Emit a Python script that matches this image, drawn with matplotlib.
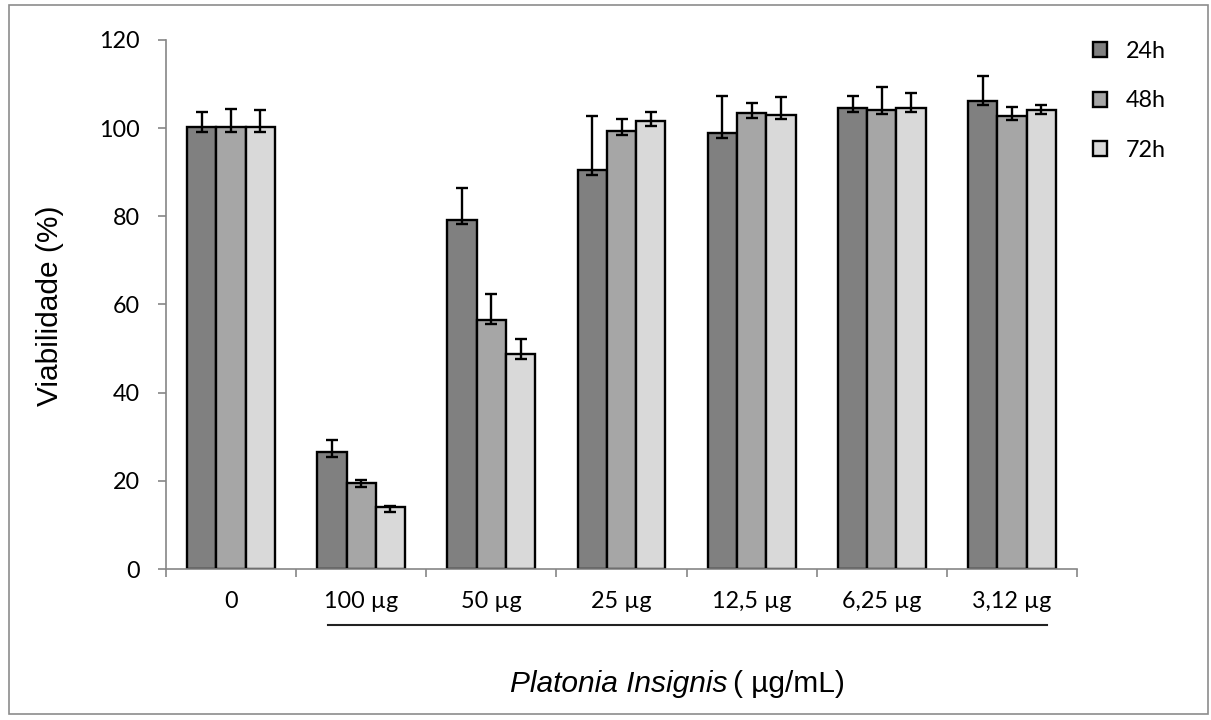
import matplotlib
matplotlib.use("Agg")
import matplotlib.pyplot as plt
import numpy as np
from matplotlib.lines import Line2D
from matplotlib.patches import Rectangle

categories = ["0", "100 µg", "50 µg", "25 µg", "12,5 µg", "6,25 µg", "3,12 µg"]
series_names = ["24h", "48h", "72h"]
v24 = [100.2, 26.6, 79.2, 90.4, 98.8, 104.6, 106.2]
v48 = [100.2, 19.6, 56.5, 99.4, 103.4, 104.2, 102.8]
v72 = [100.2, 14.0, 48.7, 101.7, 103.0, 104.6, 104.1]
up24 = [3.4, 2.7, 7.2, 12.4, 8.5, 2.6, 5.7]
up48 = [4.2, 0.5, 5.9, 2.6, 2.3, 5.2, 1.9]
up72 = [3.9, 0.4, 3.5, 2.0, 4.0, 3.3, 1.2]
dn24 = [1.0, 1.1, 0.9, 1.0, 1.0, 0.9, 1.0]
dn48 = [1.0, 0.9, 0.9, 1.0, 1.0, 0.9, 0.9]
dn72 = [1.0, 1.1, 1.1, 1.2, 1.0, 0.9, 0.9]
yticks = [0, 20, 40, 60, 80, 100, 120]

colors = ["#808080", "#a6a6a6", "#d9d9d9"]
values = [v24, v48, v72]
ups = [up24, up48, up72]
dns = [dn24, dn48, dn72]

W, H = 1211, 720
fig = plt.figure(figsize=(W / 100, H / 100), dpi=100)
ax = fig.add_axes([166 / W, 1 - 569 / H, (1077 - 166) / W, (569 - 40) / H])

x = np.arange(len(categories))
bw = 0.225
for i, (vals, c) in enumerate(zip(values, colors)):
    pos = x + (i - 1) * bw
    ax.bar(pos, vals, width=bw, color=c, edgecolor="black", linewidth=1.7,
           zorder=2, label=series_names[i])
    ax.errorbar(pos, vals, yerr=[dns[i], ups[i]], fmt="none", ecolor="black",
                elinewidth=1.7, capsize=4.5, capthick=1.7, zorder=3)

ax.set_xlim(-0.5, len(categories) - 0.5)
ax.set_ylim(0, 120)
ax.set_yticks(yticks)
ax.set_yticklabels([str(t) for t in yticks], fontfamily="Lato", fontsize=16.8)
ax.set_xticks(x)
ax.set_xticklabels(categories, fontfamily="Lato", fontsize=16.8)
ax.set_xticks(np.arange(len(categories) + 1) - 0.5, minor=True)
ax.tick_params(axis="x", which="major", length=0, pad=16)
ax.tick_params(axis="x", which="minor", length=6, color="#868686", width=1.2, direction="out")
ax.tick_params(axis="y", length=6, color="#868686", width=1.2, pad=13)

for s in ["top", "right"]:
    ax.spines[s].set_visible(False)
for s in ["left", "bottom"]:
    ax.spines[s].set_color("#868686")
    ax.spines[s].set_linewidth(1.2)

# y label
fig.text(50 / W, 1 - 306 / H, "Viabilidade (%)", rotation=90, ha="center", va="center",
         fontfamily="Liberation Sans", fontsize=21.5)
# x title
fig.text(510 / W, 1 - 684 / H, "Platonia Insignis", ha="left", va="center",
         fontfamily="Liberation Sans", fontstyle="italic", fontsize=21.5)
fig.text(733 / W, 1 - 684 / H, "( µg/mL)", ha="left", va="center",
         fontfamily="Liberation Sans", fontsize=21.5)

# underline below concentration labels
fig.add_artist(Line2D([328 / W, 1047 / W], [1 - 625 / H, 1 - 625 / H], color="#222222", lw=1.5))

# legend
leg = ax.legend(loc="upper left", bbox_to_anchor=(1093 / W, 1 - 41 / H),
                bbox_transform=fig.transFigure, frameon=False,
                prop={"family": "Lato", "size": 16.8}, handlelength=0.62, handleheight=0.62,
                handletextpad=0.8, labelspacing=1.22, borderaxespad=0, borderpad=0)

# outer border
fig.add_artist(Rectangle((9 / W, 1 - 714 / H), (1208 - 9) / W, (714 - 5) / H,
                         transform=fig.transFigure, fill=False, edgecolor="#8c8c8c", lw=1.2))

fig.savefig("out.png", dpi=100)
